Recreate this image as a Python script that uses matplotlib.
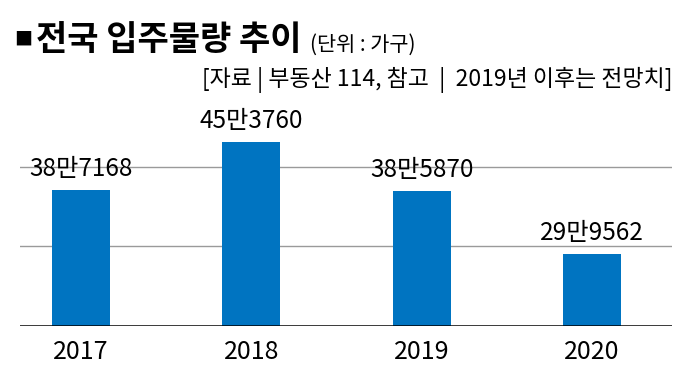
import matplotlib
matplotlib.use("Agg")
import matplotlib.pyplot as plt
from matplotlib import font_manager

years = ["2017", "2018", "2019", "2020"]
units = [387168, 453760, 385870, 299562]
value_labels = ["38만7168", "45만3760", "38만5870", "29만9562"]
grid_values = [310000, 420000]

title = "전국 입주물량 추이"
unit_note = "(단위 : 가구)"
source = "[자료 | 부동산 114, 참고  |  2019년 이후는 전망치]"

# narrow latin font if it is there, Korean font behind it
names = {f.name for f in font_manager.fontManager.ttflist}
narrow = "Liberation Sans Narrow" if "Liberation Sans Narrow" in names else "Noto Sans CJK KR"
fam = [narrow, "Noto Sans CJK KR", "DejaVu Sans"]
plt.rcParams['font.family'] = ["Noto Sans CJK KR", "DejaVu Sans"]

bar_color = "#0074c1"

fig = plt.figure(figsize=(6.86, 3.92), dpi=100)
ax = fig.add_axes([0.029, 0.168, 0.951, 0.526])

x = range(len(years))
ax.bar(x, units, width=0.34, color=bar_color, zorder=2)

ax.set_xlim(-0.358, 3.47)
ax.set_ylim(200000, 484500)

for g in grid_values:
    ax.axhline(g, color="#9a9a9a", lw=1.0, zorder=1)
ax.axhline(200000, color="black", lw=1.8, zorder=3)

for i, (v, lab) in enumerate(zip(units, value_labels)):
    ax.annotate(lab, (i, v), xytext=(0, 6), textcoords="offset points",
                ha="center", va="bottom", fontsize=17.5, family=fam, color="black")

ax.set_xticks(list(x))
ax.set_xticklabels(years, fontsize=18, family=fam)
ax.tick_params(axis="x", length=0, pad=9)
ax.set_yticks([])
for s in ax.spines.values():
    s.set_visible(False)

fig.text(0.021, 0.898, "■", fontsize=13, ha="left", va="center", color="black")
t = fig.text(0.053, 0.898, title, fontsize=24.5, fontweight="heavy", ha="left", va="center")
fig.canvas.draw()
# unit note sits right after the title
ax.annotate(unit_note, xy=(1, 0), xycoords=t, xytext=(6, 1), textcoords="offset points",
            ha="left", va="bottom", fontsize=15, family=fam, annotation_clip=False)
fig.text(0.98, 0.797, source, fontsize=16.5, ha="right", va="center", family=fam)

fig.savefig("out.png", dpi=100)
